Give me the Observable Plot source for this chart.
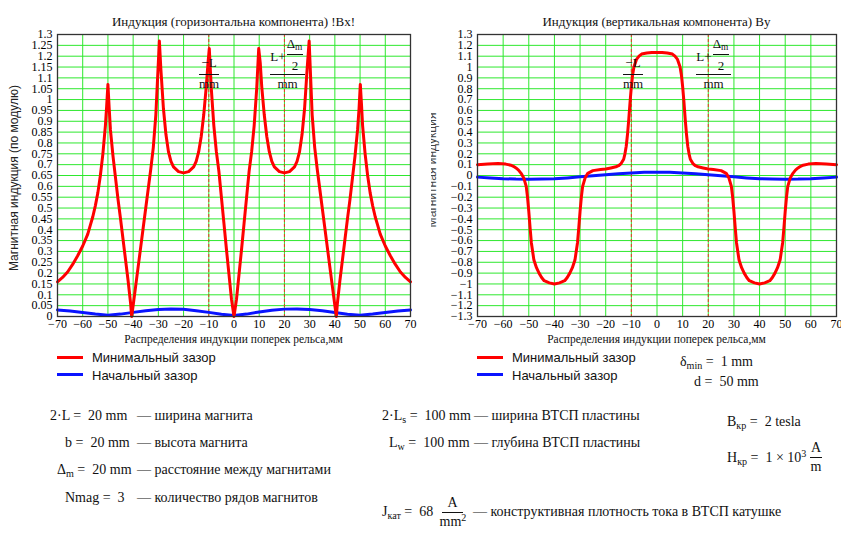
<!DOCTYPE html>
<html><head><meta charset="utf-8">
<script src="https://cdn.jsdelivr.net/npm/d3@7"></script>
<script src="https://cdn.jsdelivr.net/npm/@observablehq/plot@0.6"></script>
<style>
body{margin:0;background:#fff;}
#root{position:relative;width:841px;height:534px;overflow:hidden;background:#fff;}
#root svg{position:absolute;top:0;}
.abs{position:absolute;white-space:nowrap;line-height:1;color:#111;}
.bar{position:absolute;height:1px;background:#111;}
sub{font-size:0.72em;vertical-align:-0.32em;line-height:0;}
sup{font-size:0.72em;vertical-align:0.45em;line-height:0;}
</style></head>
<body><div id="root"></div>
<script>
// ---- data ----
const xTicks = [-70,-60,-50,-40,-30,-20,-10,0,10,20,30,40,50,60,70];
const yTicksBx = [0,0.05,0.1,0.15,0.2,0.25,0.3,0.35,0.4,0.45,0.5,0.55,0.6,0.65,0.7,0.75,0.8,0.85,0.9,0.95,1,1.05,1.1,1.15,1.2,1.25,1.3];
const yTicksBy = [-1.3,-1.2,-1.1,-1,-0.9,-0.8,-0.7,-0.6,-0.5,-0.4,-0.3,-0.2,-0.1,0,0.1,0.2,0.3,0.4,0.5,0.6,0.7,0.8,0.9,1,1.1,1.2,1.3];
const guides = [-10, 20];

const bxMinX = [-70,-68,-66,-64,-62,-60,-58,-57,-56,-55,-54,-53,-52,-51,-50.5,-50,-49.5,-49,-48,-47,-46,-45,-44,-43,-42,-41,-40.6,-40,-39,-38,-37,-36,-35,-34,-33,-32,-31,-30.3,-29.6,-29,-28,-27,-26,-25,-24,-22,-20,-18,-16,-15,-14,-13,-12,-11,-10.3,-9.8,-9,-8,-7,-6,-5,-4,-3,-2,-1,0,
  1,2,3,4,5,6,7,8,9,9.8,10.4,11,12,13,14,15,16,18,20,22,24,25,26,27,28,29,29.8,30.4,31,32,33,34,35,36,37,38,39,40,40.6,41,42,43,44,45,46,47,48,49,49.6,50.1,50.6,51,52,53,54,55,56,57,58,60,62,64,66,68,70];
const bxMin = [0.16,0.18,0.205,0.24,0.28,0.325,0.38,0.42,0.46,0.51,0.57,0.65,0.75,0.88,0.97,1.07,0.96,0.86,0.74,0.64,0.54,0.45,0.355,0.26,0.165,0.06,0.0,0.05,0.14,0.23,0.32,0.41,0.5,0.59,0.68,0.78,0.93,1.1,1.27,1.14,0.96,0.84,0.76,0.715,0.69,0.668,0.662,0.668,0.69,0.715,0.76,0.83,0.93,1.06,1.17,1.235,1.05,0.88,0.76,0.67,0.55,0.43,0.31,0.195,0.08,0.0,
  0.08,0.195,0.31,0.43,0.55,0.67,0.76,0.88,1.05,1.235,1.17,1.06,0.93,0.83,0.76,0.715,0.69,0.668,0.662,0.668,0.69,0.715,0.76,0.84,0.96,1.14,1.27,1.1,0.93,0.78,0.68,0.59,0.5,0.41,0.32,0.23,0.14,0.05,0.0,0.06,0.165,0.26,0.355,0.45,0.54,0.64,0.74,0.86,0.96,1.07,0.97,0.88,0.75,0.65,0.57,0.51,0.46,0.42,0.38,0.325,0.28,0.24,0.205,0.18,0.16];

const initX = [-70,-65,-60,-55,-50,-45,-40,-35,-30,-25,-20,-15,-10,-5,0,5,10,15,20,25,30,35,40,45,50,55,60,65,70];
const bxInit = [0.03,0.025,0.018,0.011,0.006,0.011,0.019,0.027,0.032,0.035,0.033,0.027,0.019,0.01,0.005,0.011,0.021,0.029,0.034,0.035,0.032,0.026,0.018,0.01,0.006,0.011,0.018,0.025,0.03];
const byInit = [-0.015,-0.022,-0.029,-0.033,-0.034,-0.033,-0.03,-0.022,-0.012,-0.002,0.008,0.017,0.024,0.029,0.03,0.029,0.024,0.017,0.008,-0.002,-0.012,-0.022,-0.03,-0.033,-0.034,-0.033,-0.029,-0.022,-0.015];

const byMinX = [-70,-66,-62,-59,-57,-56,-55,-54,-53,-52,-51,-50.5,-50,-49.5,-49,-48,-47,-46,-45,-44,-42,-40,-38,-36,-35,-34,-33,-32,-31,-30.5,-30,-29.5,-29,-28,-27,-25,-22,-20,-18,-16,-15,-14,-13,-12.5,-12,-11.5,-11,-10.5,-10,-9.5,-9,-8,-7,-6,-4,-2,0,
  2,4,6,7,8,9,9.5,10,10.5,11,11.5,12,12.5,13,14,15,16,18,20,22,25,27,28,29,29.5,30,30.5,31,32,33,34,35,36,38,40,42,44,45,46,47,48,49,49.5,50,50.5,51,52,53,54,55,56,57,59,62,66,70];
const byMin = [0.10,0.105,0.11,0.105,0.095,0.085,0.07,0.05,0.02,-0.02,-0.1,-0.2,-0.33,-0.48,-0.62,-0.78,-0.85,-0.9,-0.94,-0.97,-0.99,-1.0,-0.99,-0.97,-0.94,-0.9,-0.85,-0.78,-0.62,-0.48,-0.33,-0.2,-0.1,-0.02,0.02,0.045,0.055,0.06,0.07,0.08,0.09,0.11,0.15,0.2,0.27,0.38,0.52,0.68,0.82,0.93,1.0,1.07,1.1,1.12,1.13,1.135,1.135,
  1.135,1.13,1.12,1.1,1.07,1.0,0.93,0.82,0.68,0.52,0.38,0.27,0.2,0.15,0.11,0.09,0.08,0.07,0.06,0.055,0.045,0.02,-0.02,-0.1,-0.2,-0.33,-0.48,-0.62,-0.78,-0.85,-0.9,-0.94,-0.97,-0.99,-1.0,-0.99,-0.97,-0.94,-0.9,-0.85,-0.78,-0.62,-0.48,-0.33,-0.2,-0.1,-0.02,0.02,0.05,0.07,0.085,0.095,0.105,0.11,0.105,0.10];

// ---- tables ----
const tbl = (xs, vs) => xs.map((x, i) => ({x, v: vs[i]}));
const bxMinData = tbl(bxMinX, bxMin), bxInitData = tbl(initX, bxInit);
const byMinData = tbl(byMinX, byMin), byInitData = tbl(initX, byInit);

const fmt = d => (d < 0 ? "\u2212" : "") + String(Math.abs(+(+d).toFixed(2)));
const GRID = "#2ee82e";
const SERIF = "'Liberation Serif', 'DejaVu Serif Condensed', 'DejaVu Serif', serif";
const SANS = "'Liberation Sans', Arial, sans-serif";

function chart(yDomain, yTicks, minData, initData, width, mr) {
  return Plot.plot({
    width, height: 345,
    marginLeft: 57, marginRight: mr, marginTop: 34, marginBottom: 29,
    style: {fontFamily: SERIF, fontSize: "12px", color: "#000", background: "transparent", overflow: "visible"},
    x: {domain: [-70, 70], ticks: xTicks, tickFormat: fmt, tickSize: 0, tickPadding: 3, label: null},
    y: {domain: yDomain, ticks: yTicks, tickFormat: fmt, tickSize: 0, tickPadding: 5, label: null},
    marks: [
      Plot.ruleY(yTicks, {stroke: GRID, strokeWidth: 1}),
      Plot.ruleX(xTicks, {stroke: GRID, strokeWidth: 1}),
      Plot.ruleX(guides, {stroke: "#ff2020", strokeWidth: 0.9, strokeDasharray: "3,2"}),
      Plot.line(initData, {x: "x", y: "v", stroke: "#0a14ff", strokeWidth: 3}),
      Plot.line(minData, {x: "x", y: "v", stroke: "#ff0000", strokeWidth: 3}),
      Plot.frame({stroke: "#333", strokeWidth: 1.3})
    ]
  });
}

const root = document.getElementById("root");
const c1 = chart([0, 1.3], yTicksBx, bxMinData, bxInitData, 420, 10);
c1.style.left = "0px";
root.appendChild(c1);
const c2 = chart([-1.3, 1.3], yTicksBy, byMinData, byInitData, 421, 5);
c2.style.left = "420px";
root.appendChild(c2);

// ---- text helpers ----
function put(html, x, y, o = {}) {
  const d = document.createElement("div");
  d.className = "abs";
  d.innerHTML = html;
  d.style.left = x + "px";
  d.style.top = y + "px";
  d.style.fontFamily = o.family || SERIF;
  d.style.fontSize = (o.size || 14) + "px";
  if (o.color) d.style.color = o.color;
  const tx = o.align === "center" ? "-50%" : o.align === "right" ? "-100%" : "0";
  d.style.transform = `translate(${tx},-50%)`;
  root.appendChild(d);
  return d;
}
function bar(x1, x2, y, color) {
  const d = document.createElement("div");
  d.className = "bar";
  d.style.left = x1 + "px"; d.style.top = y + "px"; d.style.width = (x2 - x1) + "px";
  if (color) d.style.background = color;
  root.appendChild(d);
}
function legendLine(x, y, color) {
  const d = document.createElement("div");
  d.style.cssText = `position:absolute;left:${x}px;top:${y - 1.5}px;width:26px;height:3px;background:${color}`;
  root.appendChild(d);
}

// titles
put("Индукция (горизонтальна компонента) !Bx!", 233.5, 21, {align: "center", size: 13});
put("Индукция (вертикальная компонента) By", 656.5, 21, {align: "center", size: 13});
// axis labels
put("Распределения индукции поперек рельса,мм", 233.5, 340, {align: "center", size: 11.5});
put("Распределения индукции поперек рельса,мм", 656.5, 340, {align: "center", size: 11.5});
const yl = put("Магнитная индукция (по модулю)", 14, 178, {align: "center", size: 12, family: SANS, color: "#222"});
yl.style.transform = "translate(-50%,-50%) rotate(-90deg)";
// partially hidden label on the right chart
const clip = document.createElement("div");
clip.style.cssText = "position:absolute;left:431px;top:100px;width:10px;height:140px;overflow:hidden;";
const inner = document.createElement("div");
inner.className = "abs";
inner.textContent = "Магнитная индукция";
inner.style.cssText += `font-family:${SANS};font-size:12px;color:#444;left:1px;top:70px;transform:translate(-50%,-50%) rotate(-90deg);`;
clip.appendChild(inner);
root.appendChild(clip);

// guide annotations (fractions)
function minusL(cx) {
  put("\u2212L", cx, 62, {align: "center", size: 13});
  bar(cx - 10, cx + 10, 73.5);
  put("mm", cx, 83, {align: "center", size: 13});
}
function lPlus(cx, barL, barR) {
  put("L+", cx - 9.5, 56, {align: "center", size: 13});
  put("&Delta;<sub>m</sub>", cx + 7, 43, {align: "center", size: 13});
  bar(cx - 0.5, cx + 15.5, 54.3);
  put("2", cx + 7.5, 65, {align: "center", size: 13});
  bar(barL, barR, 73.5);
  put("mm", cx, 83, {align: "center", size: 13});
}
minusL(209);
lPlus(287.5, 270, 305);
minusL(633);
lPlus(713.5, 696, 731);

// legends
legendLine(57, 357, "#ff0000");
put("Минимальный зазор", 92, 357, {size: 13, family: SANS});
legendLine(57, 374, "#0a14ff");
put("Начальный зазор", 92, 375, {size: 13, family: SANS});
legendLine(477, 357, "#ff0000");
put("Минимальный зазор", 512, 357, {size: 13, family: SANS});
legendLine(477, 374, "#0a14ff");
put("Начальный зазор", 512, 375, {size: 13, family: SANS});

// parameters
put("&delta;<sub>min</sub> = &nbsp;1 mm", 680, 362);
put("d = &nbsp;50 mm", 694, 382);

put("2&middot;L = &nbsp;20 mm", 50, 416);
put("&mdash; ширина магнита", 137, 416);
put("b = &nbsp;20 mm", 65, 443);
put("&mdash; высота магнита", 137, 443);
put("&Delta;<sub>m</sub> = &nbsp;20 mm", 57, 470);
put("&mdash; расстояние между магнитами", 137, 470);
put("Nmag = &nbsp;3", 65, 498);
put("&mdash; количество рядов магнитов", 137, 498);

put("2&middot;L<sub>s</sub> = &nbsp;100 mm", 382, 416);
put("&mdash; ширина ВТСП пластины", 474, 416);
put("L<sub>w</sub> = &nbsp;100 mm", 389, 443);
put("&mdash; глубина ВТСП пластины", 474, 443);

put("J<sub>кат</sub> = &nbsp;68", 382, 512);
put("A", 452.5, 503, {align: "center"});
bar(442, 463, 511.5);
put("mm<sup>2</sup>", 453, 522, {align: "center"});
put("&mdash; конструктивная плотность тока в ВТСП катушке", 473, 512);

put("B<sub>кр</sub> = &nbsp;2 tesla", 727, 422);
put("H<sub>кр</sub> = &nbsp;1 &times; 10<sup>3</sup>", 727, 458);
put("A", 816, 448, {align: "center"});
bar(810, 822, 457);
put("m", 816, 467, {align: "center"});
</script>
</body></html>
